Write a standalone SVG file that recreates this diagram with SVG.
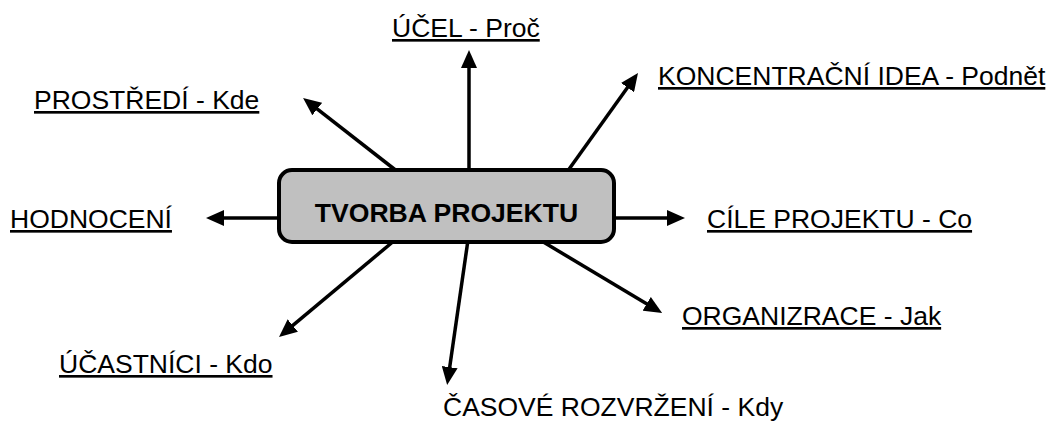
<svg xmlns="http://www.w3.org/2000/svg" width="1053" height="423" viewBox="0 0 1053 423">
<style>
.lbl{font-family:"Liberation Sans",Arial,sans-serif;font-size:26.5px;fill:#000;text-decoration:underline}
.plain{font-family:"Liberation Sans",Arial,sans-serif;font-size:26.5px;fill:#000}
.c{stroke:#000;stroke-width:3.5;fill:none;marker-end:url(#ah)}
</style>
<defs>
<marker id="ah" markerUnits="userSpaceOnUse" markerWidth="18" markerHeight="16" refX="12" refY="8" orient="auto" viewBox="0 0 18 16">
<path d="M0,0 L18,8 L0,16 z" fill="#000"/>
</marker>
</defs>
<rect width="1053" height="423" fill="#fff"/>
<g id="connectors">
<line class="c" x1="469" y1="172" x2="469" y2="56"/>
<line class="c" x1="567" y1="172" x2="634.5" y2="77.8"/>
<line class="c" x1="398" y1="172" x2="307.8" y2="101.6"/>
<line class="c" x1="281" y1="218" x2="212" y2="218"/>
<line class="c" x1="612" y1="218" x2="679" y2="218"/>
<line class="c" x1="540" y1="240" x2="657" y2="310"/>
<line class="c" x1="468" y1="240" x2="448" y2="379.1"/>
<line class="c" x1="395" y1="240" x2="283.6" y2="333.2"/>
</g>
<g id="center">
<rect x="279" y="170" width="335" height="72" rx="13" ry="13" fill="#c0c0c0" stroke="#000" stroke-width="4"/>
<text x="446.5" y="222" text-anchor="middle" font-family="Liberation Sans,Arial,sans-serif" font-size="26.6" font-weight="bold">TVORBA PROJEKTU</text>
</g>
<g id="ucel"><text class="lbl" x="392" y="37">ÚČEL - Proč</text></g>
<g id="koncentracni"><text class="lbl" x="658" y="85">KONCENTRAČNÍ IDEA - Podnět</text></g>
<g id="prostredi"><text class="lbl" x="34" y="109">PROSTŘEDÍ - Kde</text></g>
<g id="hodnoceni"><text class="lbl" x="10" y="228">HODNOCENÍ</text></g>
<g id="cile"><text class="lbl" x="707" y="228">CÍLE PROJEKTU - Co</text></g>
<g id="organizrace"><text class="lbl" x="682" y="325">ORGANIZRACE - Jak</text></g>
<g id="ucastnici"><text class="lbl" x="59" y="373">ÚČASTNÍCI - Kdo</text></g>
<g id="casove"><text class="plain" x="443" y="416">ČASOVÉ ROZVRŽENÍ - Kdy</text></g>
</svg>
